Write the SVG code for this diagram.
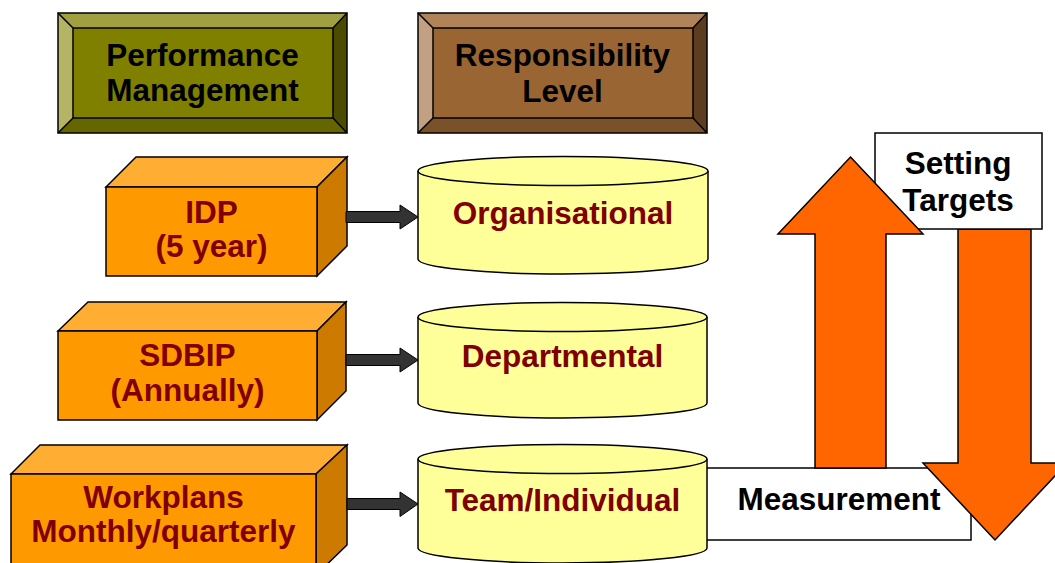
<svg xmlns="http://www.w3.org/2000/svg" width="1055" height="563" viewBox="0 0 1055 563">
<style>
text{font-family:"Liberation Sans",Arial,sans-serif;font-weight:bold;font-size:31.5px;text-anchor:middle}
.red{fill:#800000}
.blk{fill:#000}
.ln{stroke:#000;stroke-width:1.5;stroke-linejoin:miter}
.front{fill:#ff9900}
.top{fill:#ffad33}
.side{fill:#cc7a00}
.cyl{fill:#ffff99;stroke:#000;stroke-width:1.5}
.sm{fill:#333;stroke:#000;stroke-width:1}
.big{fill:#ff6600;stroke:#000;stroke-width:1.5}
.lbl{fill:#fff;stroke:#000;stroke-width:1.5}
</style>
<rect width="1055" height="563" fill="#fff"/>

<g id="performance-management">
<rect x="58" y="13" width="289" height="120" fill="#808000"/>
<polygon points="58,13 347,13 333,28 73,28" fill="#a0a040"/>
<polygon points="58,13 73,28 73,118 58,133" fill="#b4b464"/>
<polygon points="347,13 347,133 333,118 333,28" fill="#4c4c00"/>
<polygon points="58,133 73,118 333,118 347,133" fill="#666600"/>
<rect x="58" y="13" width="289" height="120" fill="none" class="ln"/>
<rect x="73" y="28" width="260" height="90" fill="none" class="ln"/>
<path d="M58,13L73,28M347,13L333,28M58,133L73,118M347,133L333,118" class="ln"/>
<text x="202.5" y="66" class="blk">Performance</text>
<text x="202.5" y="101" class="blk">Management</text>
</g>

<g id="responsibility-level">
<rect x="418" y="13" width="289" height="120" fill="#996633"/>
<polygon points="418,13 707,13 693,28 433,28" fill="#b08458"/>
<polygon points="418,13 433,28 433,118 418,133" fill="#c2a182"/>
<polygon points="707,13 707,133 693,118 693,28" fill="#5c3d1f"/>
<polygon points="418,133 433,118 693,118 707,133" fill="#7a5229"/>
<rect x="418" y="13" width="289" height="120" fill="none" class="ln"/>
<rect x="433" y="28" width="260" height="90" fill="none" class="ln"/>
<path d="M418,13L433,28M707,13L693,28M418,133L433,118M707,133L693,118" class="ln"/>
<text x="562.5" y="66" class="blk">Responsibility</text>
<text x="562.5" y="102" class="blk">Level</text>
</g>

<g id="idp">
<polygon points="106,187 136,157 347,157 317,187" class="top ln"/>
<polygon points="317,187 347,157 347,246 317,276" class="side ln"/>
<rect x="106" y="187" width="211" height="89" class="front ln"/>
<text x="211.5" y="222.5" class="red">IDP</text>
<text x="211.5" y="257" class="red">(5 year)</text>
</g>

<g id="sdbip">
<polygon points="58,331 88,302 346,302 317,331" class="top ln"/>
<polygon points="317,331 346,302 346,391 317,420" class="side ln"/>
<rect x="58" y="331" width="259" height="89" class="front ln"/>
<text x="187.5" y="365.5" class="red">SDBIP</text>
<text x="187.5" y="401" class="red">(Annually)</text>
</g>

<g id="workplans">
<polygon points="11,474 40,445 347,445 316,474" class="top ln"/>
<polygon points="316,474 347,445 347,545 316,575" class="side ln"/>
<rect x="11" y="474" width="305" height="100" class="front ln"/>
<text x="163.5" y="508" class="red">Workplans</text>
<text x="163.5" y="542" class="red">Monthly/quarterly</text>
</g>

<g id="measurement">
<rect x="700" y="468" width="271" height="72" class="lbl"/>
<text x="839" y="510" class="blk">Measurement</text>
</g>

<g id="organisational">
<path d="M418,171 L418,259 A145,15 0 0 0 708,259 L708,171" class="cyl"/>
<ellipse cx="563" cy="171" rx="145" ry="14.5" class="cyl"/>
<text x="563" y="224" class="red">Organisational</text>
</g>

<g id="departmental">
<path d="M418,317 L418,403 A144.5,15 0 0 0 707,403 L707,317" class="cyl"/>
<ellipse cx="562.5" cy="317" rx="144.5" ry="14.5" class="cyl"/>
<text x="562.5" y="366.5" class="red">Departmental</text>
</g>

<g id="team-individual">
<path d="M418,459 L418,548 A144.5,15 0 0 0 707,548 L707,459" class="cyl"/>
<ellipse cx="562.5" cy="459" rx="144.5" ry="14.5" class="cyl"/>
<text x="562.5" y="511" class="red">Team/Individual</text>
</g>

<g id="connectors">
<polygon points="346,211.5 400,211.5 400,205 418,217 400,229 400,222.5 346,222.5" class="sm"/>
<polygon points="346,354.5 400,354.5 400,348 418,360 400,372 400,365.5 346,365.5" class="sm"/>
<polygon points="347,498.5 400,498.5 400,492 418,504 400,516.5 400,509.5 347,509.5" class="sm"/>
<polygon points="958,229 1031,229 1031,463 1067,463 995,540 923,463 958,463" class="big"/>
</g>

<g id="setting-targets">
<rect x="875" y="133" width="167" height="96" class="lbl"/>
<text x="958" y="174" class="blk">Setting</text>
<text x="958" y="211" class="blk">Targets</text>
</g>

<g id="up-arrow">
<polygon points="850.5,157 923,234 886,234 886,468 815,468 815,234 778,234" class="big"/>
</g>
</svg>
